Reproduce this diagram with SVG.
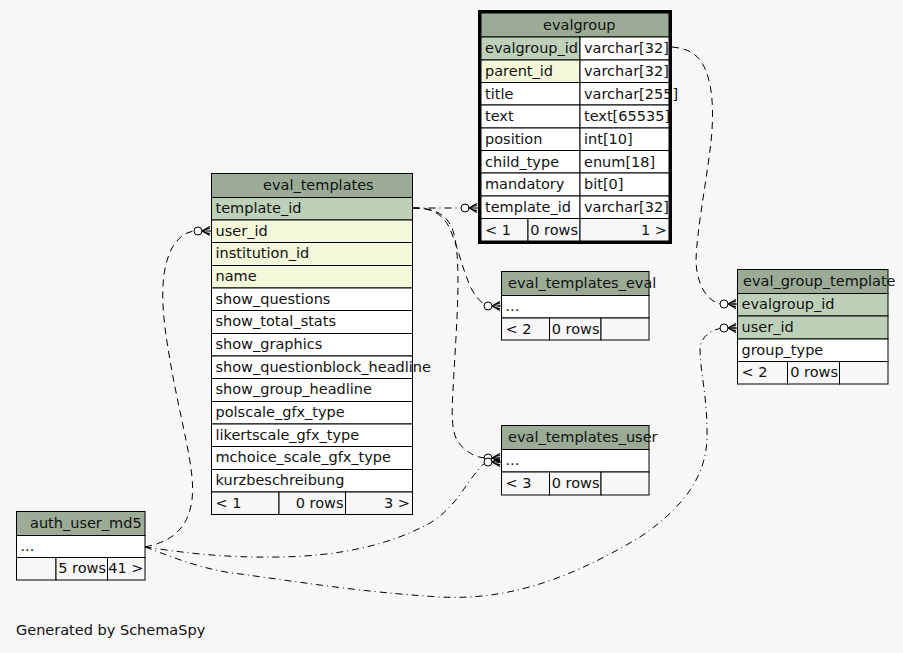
<svg xmlns="http://www.w3.org/2000/svg" width="903" height="653" viewBox="0 0 903 653">
<style>
text{font-family:"DejaVu Sans","Liberation Sans",sans-serif;font-size:14.5px;fill:#111}
.c{stroke:#000;stroke-width:1}
.h{fill:#9bab96}
.pk{fill:#bed1b8}
.fk{fill:#f4f7da}
.b{fill:#ffffff}
.f{fill:#f7f7f7}
.e{fill:none;stroke:#000;stroke-width:1;stroke-dasharray:7,5;marker-end:url(#crowodot)}
.dd{stroke-dasharray:7,4,1,4}
.r{text-anchor:end}
</style>
<defs>
<marker id="crowodot" markerUnits="userSpaceOnUse" viewBox="-19 -7 20 14" refX="0" refY="0" markerWidth="20" markerHeight="14" orient="auto" overflow="visible">
<path d="M-9,0 L-1,-4.5 M-9,0 L-1,0 M-9,0 L-1,4.5 M-6,-1.5 L-1,-2.5 M-6,1.5 L-1,2.5" fill="none" stroke="#000" stroke-width="1.2"/>
<circle cx="-13" cy="0" r="4" fill="#f7f7f7" stroke="#000" stroke-width="1"/>
</marker>
</defs>
<rect width="903" height="653" fill="#f7f7f7"/>

<g id="connectors">
<path class="e dd" d="M412.5,208 L478,208"/>
<path class="e" d="M412.5,208 C430,208 440,212 448,225 C458,245 462,270 472,290 C478,300 484,306 490,306 L501,306"/>
<path class="e" d="M412.5,208 C428,208 444,210 452,228 C463,255 456,330 453,390 C451,425 452,440 466,450 C472,455 478,458 488,458 L501,458"/>
<path class="e dd" d="M145,547 C180,552 220,558 280,557 C340,556 390,545 430,523 C455,508 465,485 478,470 C482,465 485,462 490,462 L501,462"/>
<path class="e" d="M145,547 C170,542 188,530 192,500 C196,470 180,420 170,360 C162,315 158,275 172,248 C178,238 185,232 195,231 L211,231"/>
<path class="e dd" d="M145,547 C160,552 200,570 240,574 C300,582 360,592 440,597 C500,600 560,585 640,537 C680,510 705,480 707,440 C708,400 700,370 700,350 C700,338 710,329 724,328 L737,328"/>
<path class="e" d="M672,47 C682,48 692,50 700,60 C715,80 714,120 710,150 C705,190 697,230 696,260 C696,280 705,302 722,304 L737,304"/>
</g>

<g id="evalgroup">
<rect x="479.5" y="11.5" width="191" height="231" fill="#f7f7f7" stroke="#000" stroke-width="3"/>
<rect class="c h" x="481" y="13" width="188" height="24"/>
<text x="543" y="29.5">evalgroup</text>
<rect class="c pk" x="481" y="37" width="99" height="23"/><rect class="c b" x="580" y="37" width="89" height="23"/>
<text x="485" y="53">evalgroup_id</text><text x="584" y="53">varchar[32]</text>
<rect class="c fk" x="481" y="60" width="99" height="22.5"/><rect class="c b" x="580" y="60" width="89" height="22.5"/>
<text x="485" y="76">parent_id</text><text x="584" y="76">varchar[32]</text>
<rect class="c b" x="481" y="82.5" width="99" height="22.5"/><rect class="c b" x="580" y="82.5" width="89" height="22.5"/>
<text x="485" y="98.5">title</text><text x="584" y="98.5">varchar[255]</text>
<rect class="c b" x="481" y="105" width="99" height="23"/><rect class="c b" x="580" y="105" width="89" height="23"/>
<text x="485" y="121">text</text><text x="584" y="121">text[65535]</text>
<rect class="c b" x="481" y="128" width="99" height="22.5"/><rect class="c b" x="580" y="128" width="89" height="22.5"/>
<text x="485" y="144">position</text><text x="584" y="144">int[10]</text>
<rect class="c b" x="481" y="150.5" width="99" height="22.5"/><rect class="c b" x="580" y="150.5" width="89" height="22.5"/>
<text x="485" y="166.5">child_type</text><text x="584" y="166.5">enum[18]</text>
<rect class="c b" x="481" y="173" width="99" height="23"/><rect class="c b" x="580" y="173" width="89" height="23"/>
<text x="485" y="189">mandatory</text><text x="584" y="189">bit[0]</text>
<rect class="c b" x="481" y="196" width="99" height="22.5"/><rect class="c b" x="580" y="196" width="89" height="22.5"/>
<text x="485" y="212">template_id</text><text x="584" y="212">varchar[32]</text>
<rect class="c f" x="481" y="218.5" width="47" height="22.5"/><rect class="c f" x="528" y="218.5" width="52" height="22.5"/><rect class="c f" x="580" y="218.5" width="89" height="22.5"/>
<text x="485" y="234.5">&lt; 1</text><text class="r" x="578" y="234.5">0 rows</text><text class="r" x="667" y="234.5">1 &gt;</text>
</g>

<g id="eval_templates">
<rect class="c h" x="211.5" y="173.5" width="201" height="24"/>
<text x="263" y="189.5">eval_templates</text>
<rect class="c pk" x="211.5" y="197.5" width="201" height="22.5"/><text x="215.5" y="213">template_id</text>
<rect class="c fk" x="211.5" y="220" width="201" height="22.5"/><text x="215.5" y="235.5">user_id</text>
<rect class="c fk" x="211.5" y="242.5" width="201" height="23"/><text x="215.5" y="258">institution_id</text>
<rect class="c fk" x="211.5" y="265.5" width="201" height="22.5"/><text x="215.5" y="281">name</text>
<rect class="c b" x="211.5" y="288" width="201" height="22.5"/><text x="215.5" y="303.5">show_questions</text>
<rect class="c b" x="211.5" y="310.5" width="201" height="23"/><text x="215.5" y="326">show_total_stats</text>
<rect class="c b" x="211.5" y="333.5" width="201" height="22.5"/><text x="215.5" y="349">show_graphics</text>
<rect class="c b" x="211.5" y="356" width="201" height="22.5"/><text x="215.5" y="371.5">show_questionblock_headline</text>
<rect class="c b" x="211.5" y="378.5" width="201" height="23"/><text x="215.5" y="394">show_group_headline</text>
<rect class="c b" x="211.5" y="401.5" width="201" height="22.5"/><text x="215.5" y="417">polscale_gfx_type</text>
<rect class="c b" x="211.5" y="424" width="201" height="22.5"/><text x="215.5" y="439.5">likertscale_gfx_type</text>
<rect class="c b" x="211.5" y="446.5" width="201" height="23"/><text x="215.5" y="462">mchoice_scale_gfx_type</text>
<rect class="c b" x="211.5" y="469.5" width="201" height="22.5"/><text x="215.5" y="485">kurzbeschreibung</text>
<rect class="c f" x="211.5" y="492" width="67.5" height="22.5"/><rect class="c f" x="279" y="492" width="66.5" height="22.5"/><rect class="c f" x="345.5" y="492" width="67" height="22.5"/>
<text x="215.5" y="507.5">&lt; 1</text><text class="r" x="343.5" y="507.5">0 rows</text><text class="r" x="410" y="507.5">3 &gt;</text>
</g>

<g id="eval_templates_eval">
<rect class="c h" x="501.5" y="271.5" width="147.5" height="24"/>
<text x="508" y="287.5">eval_templates_eval</text>
<rect class="c b" x="501.5" y="295.5" width="147.5" height="22.5"/><text x="505.5" y="311">...</text>
<rect class="c f" x="501.5" y="318" width="48" height="22"/><rect class="c f" x="549.5" y="318" width="51.5" height="22"/><rect class="c f" x="601" y="318" width="48" height="22"/>
<text x="505.5" y="333.5">&lt; 2</text><text class="r" x="599.5" y="333.5">0 rows</text>
</g>

<g id="eval_templates_user">
<rect class="c h" x="501.5" y="425.5" width="147.5" height="24"/>
<text x="508" y="441.5">eval_templates_user</text>
<rect class="c b" x="501.5" y="449.5" width="147.5" height="22.5"/><text x="505.5" y="465">...</text>
<rect class="c f" x="501.5" y="472" width="48" height="23"/><rect class="c f" x="549.5" y="472" width="51.5" height="23"/><rect class="c f" x="601" y="472" width="48" height="23"/>
<text x="505.5" y="488">&lt; 3</text><text class="r" x="599.5" y="488">0 rows</text>
</g>

<g id="eval_group_template">
<rect class="c h" x="737.5" y="269.5" width="150.5" height="24"/>
<text x="743" y="285.5">eval_group_template</text>
<rect class="c pk" x="737.5" y="293.5" width="150.5" height="22.5"/><text x="741.5" y="309">evalgroup_id</text>
<rect class="c pk" x="737.5" y="316" width="150.5" height="23"/><text x="741.5" y="332">user_id</text>
<rect class="c b" x="737.5" y="339" width="150.5" height="22.5"/><text x="741.5" y="354.5">group_type</text>
<rect class="c f" x="737.5" y="361.5" width="50" height="22.5"/><rect class="c f" x="787.5" y="361.5" width="52" height="22.5"/><rect class="c f" x="839.5" y="361.5" width="48.5" height="22.5"/>
<text x="741.5" y="377">&lt; 2</text><text class="r" x="838" y="377">0 rows</text>
</g>

<g id="auth_user_md5">
<rect class="c h" x="16.5" y="511.5" width="128.5" height="24"/>
<text x="30" y="527.5">auth_user_md5</text>
<rect class="c b" x="16.5" y="535.5" width="128.5" height="22"/><text x="20.5" y="551">...</text>
<rect class="c f" x="16.5" y="557.5" width="39.5" height="22.5"/><rect class="c f" x="56" y="557.5" width="51.5" height="22.5"/><rect class="c f" x="107.5" y="557.5" width="37.5" height="22.5"/>
<text class="r" x="106" y="573">5 rows</text><text class="r" x="143.5" y="573">41 &gt;</text>
</g>

<text x="16" y="635">Generated by SchemaSpy</text>
</svg>
